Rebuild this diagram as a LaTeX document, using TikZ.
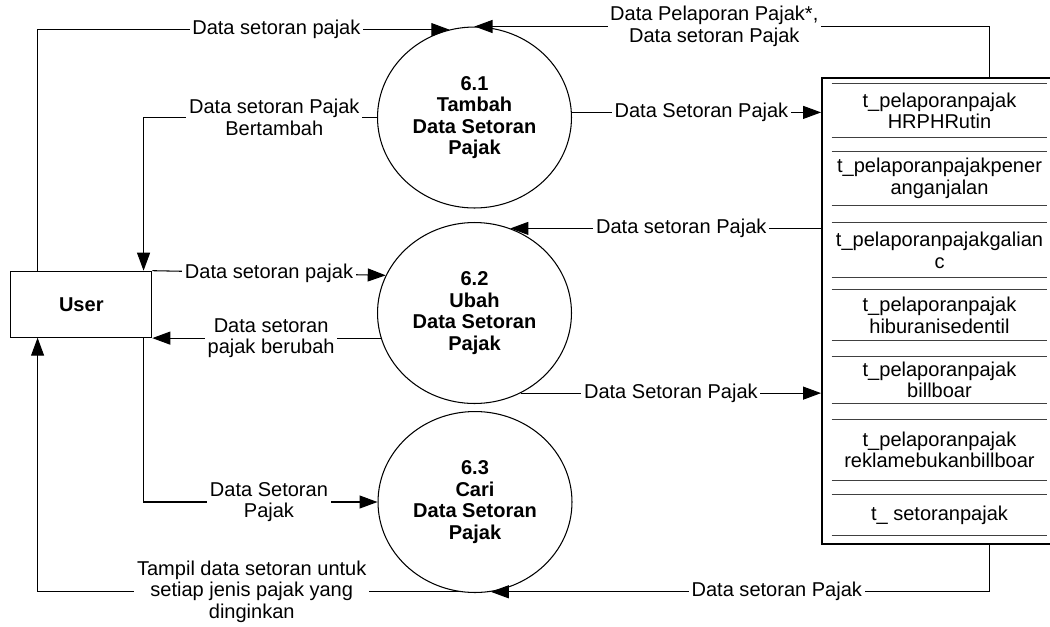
\documentclass[tikz,border=0pt]{standalone}
\usepackage{fontspec}
\setmainfont{Liberation Sans}
\usepackage{tikz}
\usetikzlibrary{shapes.geometric,arrows.meta}

\begin{document}
\begin{tikzpicture}[x=0.02cm, y=-0.02cm,
		every node/.style={font=\fontsize{11.4}{12.3}\selectfont},
		proc/.style={draw, ellipse, minimum width=3.88cm, minimum height=3.62cm, inner sep=0pt, align=center, font=\fontsize{11.4}{12.3}\selectfont\bfseries},
		flow/.style={line width=0.6pt, -{Triangle[length=0.36cm, width=0.26cm]}},
		lbl/.style={fill=white, inner sep=1.5pt, align=center},
		tblsec/.style={minimum width=4.3cm, inner sep=0pt, align=center},
		tblline/.style={line width=0.6pt, black!75}]
		\useasboundingbox (0,0) rectangle (1050,626);
		\draw[color=black, line width=0.6pt]
		node[draw, minimum width=2.82cm, minimum height=1.32cm, font=\fontsize{11.4}{12.3}\selectfont\bfseries] (user) at (81.3, 304.2){User}
		node[proc] (p61) at (474.5, 117.5){6.1\\Tambah\\Data Setoran\\Pajak}
		node[proc] (p62) at (474.5, 313){6.2\\Ubah\\Data Setoran\\Pajak}
		node[proc] (p63) at (475, 502){6.3\\Cari\\Data Setoran\\Pajak};
		\node[draw, line width=1.1pt, minimum width=4.62cm, minimum height=9.32cm, inner sep=0pt] (store) at (937.5, 311){};
		\foreach \i/\yy/\hh/\txt in {1/110.7/1.07/{t\_pelaporanpajak\\HRPHRutin},
				2/178.5/1.07/{t\_pelaporanpajakpener\\anganjalan},
				3/250.3/1.08/{t\_pelaporanpajakgalian\\c},
				4/315.3/1.01/{t\_pelaporanpajak\\hiburanisedentil},
				5/380/0.93/{t\_pelaporanpajak\\billboar},
				6/450/1.2/{t\_pelaporanpajak\\reklamebukanbillboar},
				7/515/0.8/{t\_ setoranpajak}}
			\node[tblsec, minimum height=\hh cm] (t\i) at (939.5, \yy){\txt};
		\foreach \i in {1,...,7}
			\draw[tblline] (t\i.north west) -- (t\i.north east) (t\i.south west) -- (t\i.south east);
		\draw [flow] ([xshift=0.546cm]user.north west) |- (p61.106) node[lbl, pos=0.79] {Data setoran pajak};
		\draw [flow] (p61.west) -| ([xshift=2.666cm]user.north west) node[lbl, pos=0.22] {Data setoran Pajak\\Bertambah};
		\draw [flow] ([xshift=3.36cm]store.north west) |- (p61.north) node[lbl, pos=0.767] {Data Pelaporan Pajak*,\\Data setoran Pajak};
		\draw [flow] (p61.3) -- (p61.3 -| store.west) node[lbl, pos=0.52] {Data Setoran Pajak};
		\draw [flow] (p62.67 -| store.west) -- (p62.67) node[lbl, pos=0.45] {Data setoran Pajak};
		\draw [flow] (user.north east) -- (p62.157) node[lbl, midway] {Data setoran pajak};
		\draw [flow] (p62.195) -- (p62.195 -| user.east) node[lbl, pos=0.48] {Data setoran\\pajak berubah};
		\draw [flow] (p62.-60) -- (p62.-60 -| store.west) node[lbl, pos=0.5] {Data Setoran Pajak};
		\draw [flow] ([xshift=2.666cm]user.south west) |- (p63.west) node[lbl, pos=0.768] {Data Setoran\\Pajak};
		\draw [flow] (p63.-100) -| ([xshift=0.546cm]user.south west) node[lbl, pos=0.246] {Tampil data setoran untuk\\setiap jenis pajak yang\\dinginkan};
		\draw [flow] ([xshift=3.36cm]store.south west) |- (p63.-80) node[lbl, pos=0.713] {Data setoran Pajak};
\end{tikzpicture}
\end{document}
